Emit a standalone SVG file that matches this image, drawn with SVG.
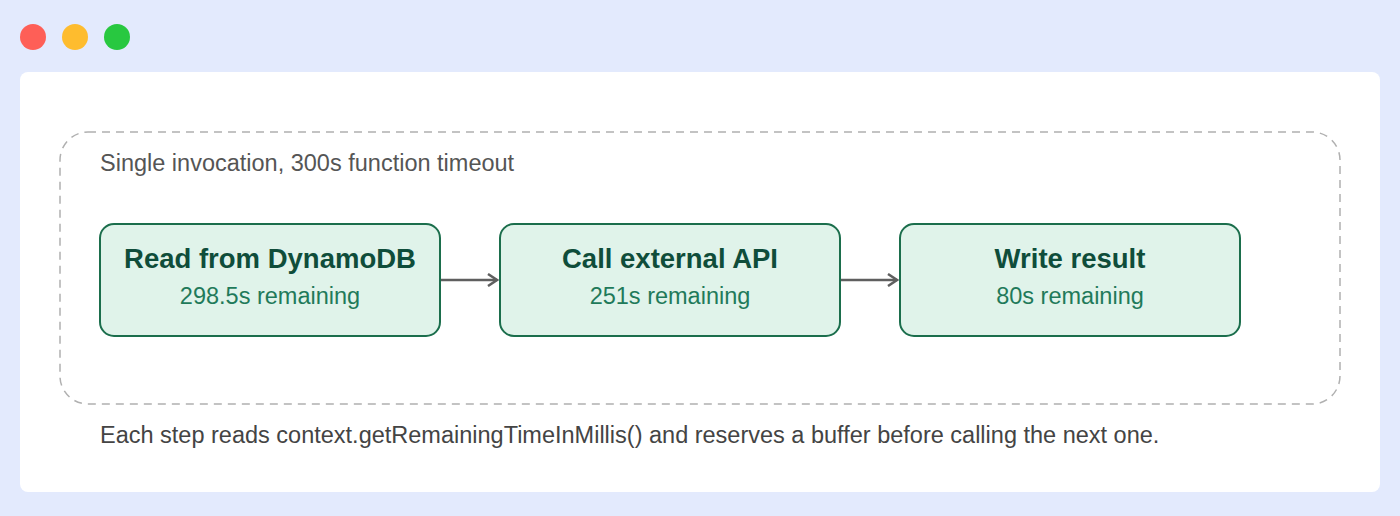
<svg xmlns="http://www.w3.org/2000/svg" width="1400" height="516" viewBox="0 0 1400 516">
<style>
text{font-family:"Liberation Sans",Arial,sans-serif}
.node rect{fill:#e0f3ea;stroke:#1b6e4c;stroke-width:2}
.t{font-size:27.5px;font-weight:bold;fill:#0f4d3a;text-anchor:middle}
.s{font-size:23.5px;fill:#1f7a5a;text-anchor:middle}
.e{stroke:#5f5f5f;stroke-width:2.5;fill:none}
</style>
<defs><marker id="a" markerWidth="12" markerHeight="14" refX="10" refY="7" orient="auto" markerUnits="userSpaceOnUse"><path d="M1,1 L10,7 L1,13" fill="none" stroke="#5f5f5f" stroke-width="2.5"/></marker></defs>
<rect width="1400" height="516" fill="#e3eafd"/>
<circle cx="33" cy="37" r="13" fill="#fe5f57"/>
<circle cx="75" cy="37" r="13" fill="#febc2e"/>
<circle cx="117" cy="37" r="13" fill="#28c840"/>
<rect x="20" y="72" width="1360" height="420" rx="8" fill="#fff"/>
<g id="group"><rect x="60" y="132" width="1280" height="272" rx="28" fill="none" stroke="#b0b0b0" stroke-width="1.5" stroke-dasharray="8 6"/>
<text x="100" y="171" font-size="23.5" fill="#555">Single invocation, 300s function timeout</text></g>
<g id="n1" class="node"><rect x="100" y="224" width="340" height="112" rx="14"/><text class="t" x="270" y="268">Read from DynamoDB</text><text class="s" x="270" y="304">298.5s remaining</text></g>
<g id="n2" class="node"><rect x="500" y="224" width="340" height="112" rx="14"/><text class="t" x="670" y="268">Call external API</text><text class="s" x="670" y="304">251s remaining</text></g>
<g id="n3" class="node"><rect x="900" y="224" width="340" height="112" rx="14"/><text class="t" x="1070" y="268">Write result</text><text class="s" x="1070" y="304">80s remaining</text></g>
<g id="edges"><line class="e" x1="441" y1="280" x2="497" y2="280" marker-end="url(#a)"/><line class="e" x1="841" y1="280" x2="897" y2="280" marker-end="url(#a)"/></g>
<text x="100" y="443" font-size="23.5" fill="#444">Each step reads context.getRemainingTimeInMillis() and reserves a buffer before calling the next one.</text>
</svg>
